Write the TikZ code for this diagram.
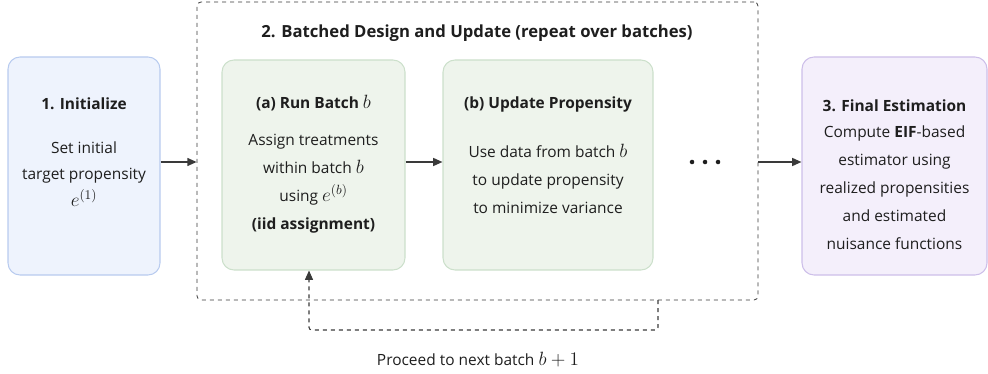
\documentclass[tikz,border=0pt]{standalone}
\usepackage{amsmath}
\usepackage{fontspec}
\setmainfont{Open Sans}
\usetikzlibrary{positioning, arrows.meta}

\DeclareMathSizes{11.6}{13.6}{10}{8}

\definecolor{inkcol}{HTML}{1E1E1E}
\definecolor{arrowcol}{HTML}{3A3A3A}
\definecolor{initfill}{HTML}{EEF3FD}
\definecolor{initdraw}{HTML}{B8CBEF}
\definecolor{batchfill}{HTML}{EEF4EC}
\definecolor{batchdraw}{HTML}{CCE0CB}
\definecolor{finalfill}{HTML}{F4EFFB}
\definecolor{finaldraw}{HTML}{CDBFE9}

\newcommand{\topline}{\rule{0pt}{8.8pt}}

\begin{document}
\begin{tikzpicture}[
    x=0.75pt, y=-0.75pt,
    box/.style={draw, rounded corners=9pt, line width=0.8pt, inner sep=0pt},
    initbox/.style={box, draw=initdraw, fill=initfill, minimum width=114pt, minimum height=163.5pt},
    batchbox/.style={box, draw=batchdraw, fill=batchfill, minimum height=157.5pt},
    finalbox/.style={box, draw=finaldraw, fill=finalfill, minimum width=138.75pt, minimum height=163.5pt},
    stagebox/.style={draw=arrowcol, dashed, line width=0.6pt, rounded corners=3pt,
        minimum width=420.75pt, minimum height=223.5pt, inner sep=0pt},
    head/.style={anchor=base, text=inkcol, font=\fontsize{11.6}{14}\selectfont\bfseries},
    body/.style={anchor=north, yshift=8.8pt, inner sep=0pt, align=center, text=inkcol,
        font=\fontsize{11.6}{21}\selectfont},
    flow/.style={-{Triangle[length=7pt, width=6pt]}, line width=1.1pt, draw=arrowcol},
    backflow/.style={flow, line width=0.8pt, dashed}
]
    \useasboundingbox (0,0) rectangle (988,374);

    % --- 1. Initialize ---
    \node[initbox] (init) at (84,166) {};
    \node[head] (initHead) at (84,110) {1. Initialize};
    \node[body, font=\fontsize{11.6}{20}\selectfont] (initBody) at (84,153)
        {\topline Set initial\\ target propensity\\ $e^{(1)}$};

    % --- 2. Batched stage (dashed frame) ---
    \node[stagebox] (stage) at (477.5,151) {};
    \node[head, font=\fontsize{12.5}{15}\selectfont\bfseries] (stageHead) at (477,38)
        {2. Batched Design and Update (repeat over batches)};

    % --- (a) Run Batch ---
    \node[batchbox, minimum width=137.25pt] (runA) at (313.5,165) {};
    \node[head] (runHead) at (313.5,109) {(a) Run Batch $b$};
    \node[body] (runBody) at (313.5,145)
        {\topline Assign treatments\\ within batch $b$\\ using $e^{(b)}$\\ \textbf{(iid assignment)}};

    % --- (b) Update Propensity ---
    \node[batchbox, minimum width=157.5pt] (updB) at (548,165) {};
    \node[head] (updHead) at (548,109) {(b) Update Propensity};
    \node[body] (updBody) at (548,156)
        {\topline Use data from batch $b$\\ to update propensity\\ to minimize variance};

    % --- more batches ---
    \fill[inkcol] (692,162) circle (1.7pt) (705,162) circle (1.7pt) (718,162) circle (1.7pt);

    % --- 3. Final Estimation ---
    \node[finalbox] (final) at (894.5,166) {};
    \node[head] (finalHead) at (894.5,112) {3. Final Estimation};
    \node[body] (finalBody) at (894.5,137)
        {\topline Compute \textbf{EIF}-based\\ estimator using\\ realized propensities\\ and estimated\\ nuisance functions};

    % --- connectors ---
    \coordinate (stageIn) at (stage.west |- 0,162);
    \coordinate (stageOut) at (stage.east |- 0,162);
    \coordinate (loopR) at (658,300);
    \draw[flow] (init.east |- stageIn) -- (stageIn);
    \draw[flow] (runA.east |- 0,162) -- (updB.west |- 0,162);
    \draw[flow] (stageOut) -- (final.west |- stageOut);

    % --- next batch loop ---
    \draw[backflow, rounded corners=2pt] (loopR) -- (658,330) -- (309,330) -- (runA.south -| 309,0);
    \node[head, font=\fontsize{11.6}{14}\selectfont] (nextLabel) at (478,365) {Proceed to next batch $b+1$};

\end{tikzpicture}
\end{document}
